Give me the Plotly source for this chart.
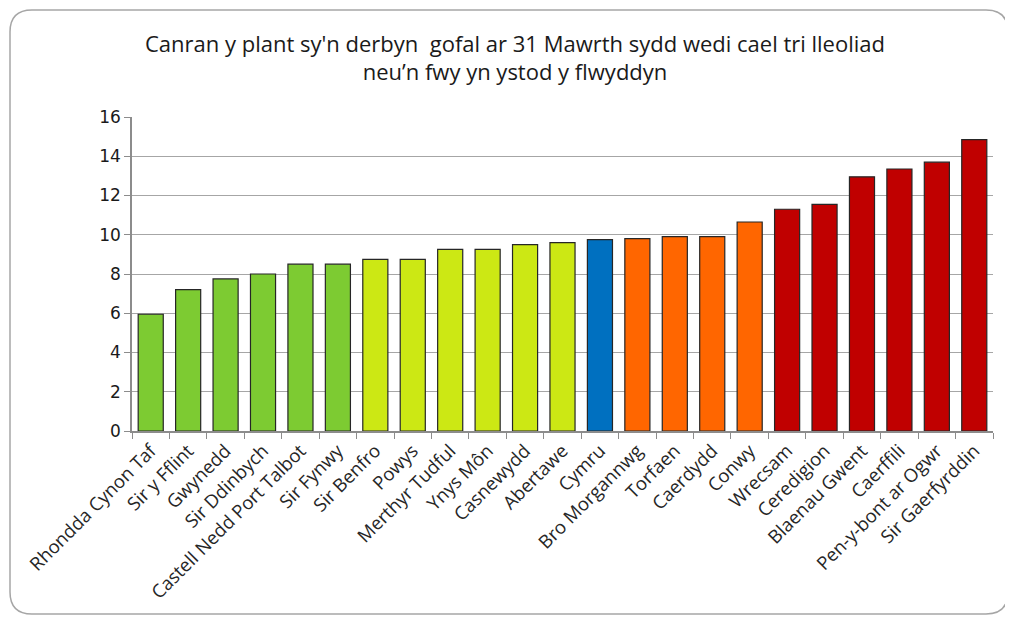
import plotly.graph_objects as go

# Ardaloedd a chanrannau (darllen o'r siart)
ardaloedd = [
    "Rhondda Cynon Taf", "Sir y Fflint", "Gwynedd", "Sir Ddinbych",
    "Castell Nedd Port Talbot", "Sir Fynwy", "Sir Benfro", "Powys",
    "Merthyr Tudful", "Ynys Môn", "Casnewydd", "Abertawe", "Cymru",
    "Bro Morgannwg", "Torfaen", "Caerdydd", "Conwy", "Wrecsam",
    "Ceredigion", "Blaenau Gwent", "Caerffili", "Pen-y-bont ar Ogwr",
    "Sir Gaerfyrddin",
]
canran = [
    5.95, 7.2, 7.75, 8.0, 8.5, 8.5, 8.75, 8.75, 9.25, 9.25, 9.5, 9.6, 9.75,
    9.8, 9.9, 9.9, 10.65, 11.3, 11.55, 12.95, 13.35, 13.7, 14.85,
]
grwp = [
    "gwyrdd", "gwyrdd", "gwyrdd", "gwyrdd", "gwyrdd", "gwyrdd",
    "melyn", "melyn", "melyn", "melyn", "melyn", "melyn",
    "cymru",
    "oren", "oren", "oren", "oren",
    "coch", "coch", "coch", "coch", "coch", "coch",
]

LLIWIAU = {
    "gwyrdd": "#7DCB32",
    "melyn": "#CCE814",
    "cymru": "#0070C0",
    "oren": "#FF6600",
    "coch": "#C00000",
}

fig = go.Figure()

fig.add_trace(go.Bar(
    x=ardaloedd,
    y=canran,
    marker=dict(
        color=[LLIWIAU[g] for g in grwp],
        line=dict(color="#262626", width=1.2),
    ),
    showlegend=False,
    hovertemplate="%{x}: %{y}<extra></extra>",
))

# maint y ffigur (mae gan y dudalen ymyl 8px)
FW, FH = 1005, 615
L, R, T, B = 124, 20, 109, 192
W, H = FW - L - R, FH - T - B


def px(xp):
    return (xp - L) / W


def py(yp):
    return (FH - B - yp) / H


# Ffrâm gron o gwmpas y siart
x0, x1, y0, y1, r = 2, 1000, 2, 606, 22
path = (
    f"M {px(x0 + r)},{py(y0)} L {px(x1 - r)},{py(y0)} "
    f"Q {px(x1)},{py(y0)} {px(x1)},{py(y0 + r)} "
    f"L {px(x1)},{py(y1 - r)} Q {px(x1)},{py(y1)} {px(x1 - r)},{py(y1)} "
    f"L {px(x0 + r)},{py(y1)} Q {px(x0)},{py(y1)} {px(x0)},{py(y1 - r)} "
    f"L {px(x0)},{py(y0 + r)} Q {px(x0)},{py(y0)} {px(x0 + r)},{py(y0)} Z"
)
fig.add_shape(type="path", path=path, xref="paper", yref="paper",
              line=dict(color="#A6A6A6", width=1.5), layer="below")

fig.update_layout(
    width=FW,
    height=FH,
    margin=dict(l=L, r=R, t=T, b=B, autoexpand=False),
    paper_bgcolor="white",
    plot_bgcolor="white",
    bargap=0.33,
    title=dict(
        text="Canran y plant sy'n derbyn  gofal ar 31 Mawrth sydd wedi cael tri lleoliad"
             "<br>neu’n fwy yn ystod y flwyddyn",
        x=(515 - 8) / FW, xanchor="center", xref="container",
        y=0.929, yanchor="top",
        font=dict(family="Open Sans, sans-serif", size=22, color="#1a1a1a"),
    ),
    xaxis=dict(
        tickangle=-45,
        tickson="boundaries",
        ticks="outside",
        ticklen=6,
        tickcolor="#8C8C8C",
        showline=True,
        linecolor="#8C8C8C",
        linewidth=1.5,
        showgrid=False,
        automargin=False,
        tickfont=dict(family="Open Sans, sans-serif", size=18.5, color="#262626"),
    ),
    yaxis=dict(
        range=[0, 16],
        dtick=2,
        ticks="outside",
        ticklen=6,
        tickcolor="#8C8C8C",
        showline=True,
        linecolor="#8C8C8C",
        linewidth=1.5,
        gridcolor="#A6A6A6",
        gridwidth=1,
        zeroline=False,
        automargin=False,
        tickfont=dict(family="DejaVu Sans, sans-serif", size=17, color="#1a1a1a"),
    ),
)

fig.write_html("out.html")
